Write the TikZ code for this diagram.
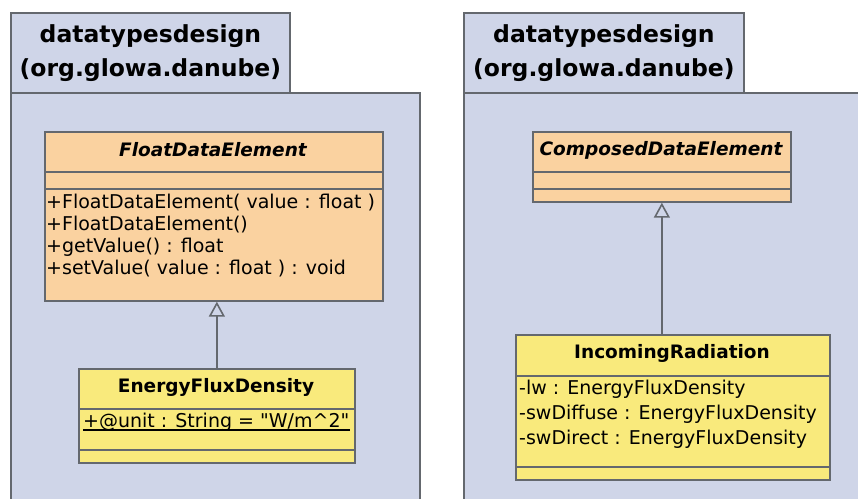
\documentclass[tikz,border=0pt]{standalone}
\usepackage{fontspec}
\setmainfont{DejaVu Sans}
\newfontfamily\rawfont{DejaVu Sans}
\usetikzlibrary{arrows.meta}
\definecolor{pkgfill}{RGB}{207,213,232}
\definecolor{clsorange}{RGB}{250,210,160}
\definecolor{clsyellow}{RGB}{249,234,124}
\definecolor{edge}{RGB}{100,104,110}
\tikzset{
  pkg/.style={draw=edge, line width=1.8pt, fill=pkgfill, anchor=north west, inner sep=0pt},
  cls/.style={draw=edge, line width=1.7pt, anchor=north west, inner sep=0pt},
  sep/.style={draw=edge, line width=1.7pt},
  pkgtitle/.style={font=\fontsize{23.5}{34}\selectfont\bfseries, align=center, inner sep=0pt},
  clsname/.style={font=\fontsize{18.5}{22}\selectfont\bfseries, inner sep=0pt},
  member/.style={font=\fontsize{19}{22}\selectfont, anchor=west, inner sep=0pt},
  gen/.style={draw=edge, line width=1.6pt, -{Triangle[open, width=16pt, length=15pt, line width=1.6pt]}}
}
\begin{document}
\begin{tikzpicture}[x=1pt,y=-1pt]
\useasboundingbox[fill=white] (0,0) rectangle (858,498);
% left package
\node[pkg, minimum width=409, minimum height=420] (lbody) at (10,92) {};
\node[pkg, minimum width=279, minimum height=80] (ltab) at (10,12) {};
\node[pkgtitle] (ltitle) at (ltab.center) {datatypesdesign\\(org.glowa.danube)};
% right package
\node[pkg, minimum width=420, minimum height=420] (rbody) at (463,92) {};
\node[pkg, minimum width=280, minimum height=80] (rtab) at (463,12) {};
\node[pkgtitle] (rtitle) at (rtab.center) {datatypesdesign\\(org.glowa.danube)};
% FloatDataElement
\node[cls, fill=clsorange, minimum width=338, minimum height=169] (fde) at (44,131) {};
\draw[sep] (44,172) -- (382,172);
\draw[sep] (44,189) -- (382,189);
\node[clsname, font=\fontsize{18.5}{22}\selectfont\bfseries\itshape] (fdename) at (213,150) {FloatDataElement};
\node[member] (fm1) at (46,203) {+FloatDataElement( value : float )};
\node[member] (fm2) at (46,225) {+FloatDataElement()};
\node[member] (fm3) at (46,247) {+getValue() : float};
\node[member] (fm4) at (46,269) {+setValue( value : float ) : void};
% EnergyFluxDensity
\node[cls, fill=clsyellow, minimum width=276, minimum height=94] (efd) at (78,368) {};
\draw[sep] (78,409) -- (354,409);
\draw[sep] (78,450) -- (354,450);
\node[clsname] (efdname) at (216,387) {EnergyFluxDensity};
\node[member] (efdattr) at (83,422) {+@unit : String = {\rawfont "}W/m\textasciicircum 2{\rawfont "}};
\draw[draw=black, line width=1.1pt] (83,430) -- (350,430);
% ComposedDataElement
\node[cls, fill=clsorange, minimum width=258, minimum height=70] (cde) at (532,131) {};
\draw[sep] (532,172) -- (790,172);
\draw[sep] (532,189) -- (790,189);
\node[clsname, font=\fontsize{18.5}{22}\selectfont\bfseries\itshape] (cdename) at (661,150) {ComposedDataElement};
% IncomingRadiation
\node[cls, fill=clsyellow, minimum width=314, minimum height=145] (inc) at (515,334) {};
\draw[sep] (515,376) -- (829,376);
\draw[sep] (515,467) -- (829,467);
\node[clsname] (incname) at (672,353) {IncomingRadiation};
\node[member] (im1) at (519,389) {-lw : EnergyFluxDensity};
\node[member] (im2) at (519,414) {-swDiffuse : EnergyFluxDensity};
\node[member] (im3) at (519,439) {-swDirect : EnergyFluxDensity};
% generalizations
\draw[gen] (efd.north) -- (efd.north |- fde.south);
\draw[gen] (cde.south |- inc.north) -- (cde.south);
\end{tikzpicture}
\end{document}
